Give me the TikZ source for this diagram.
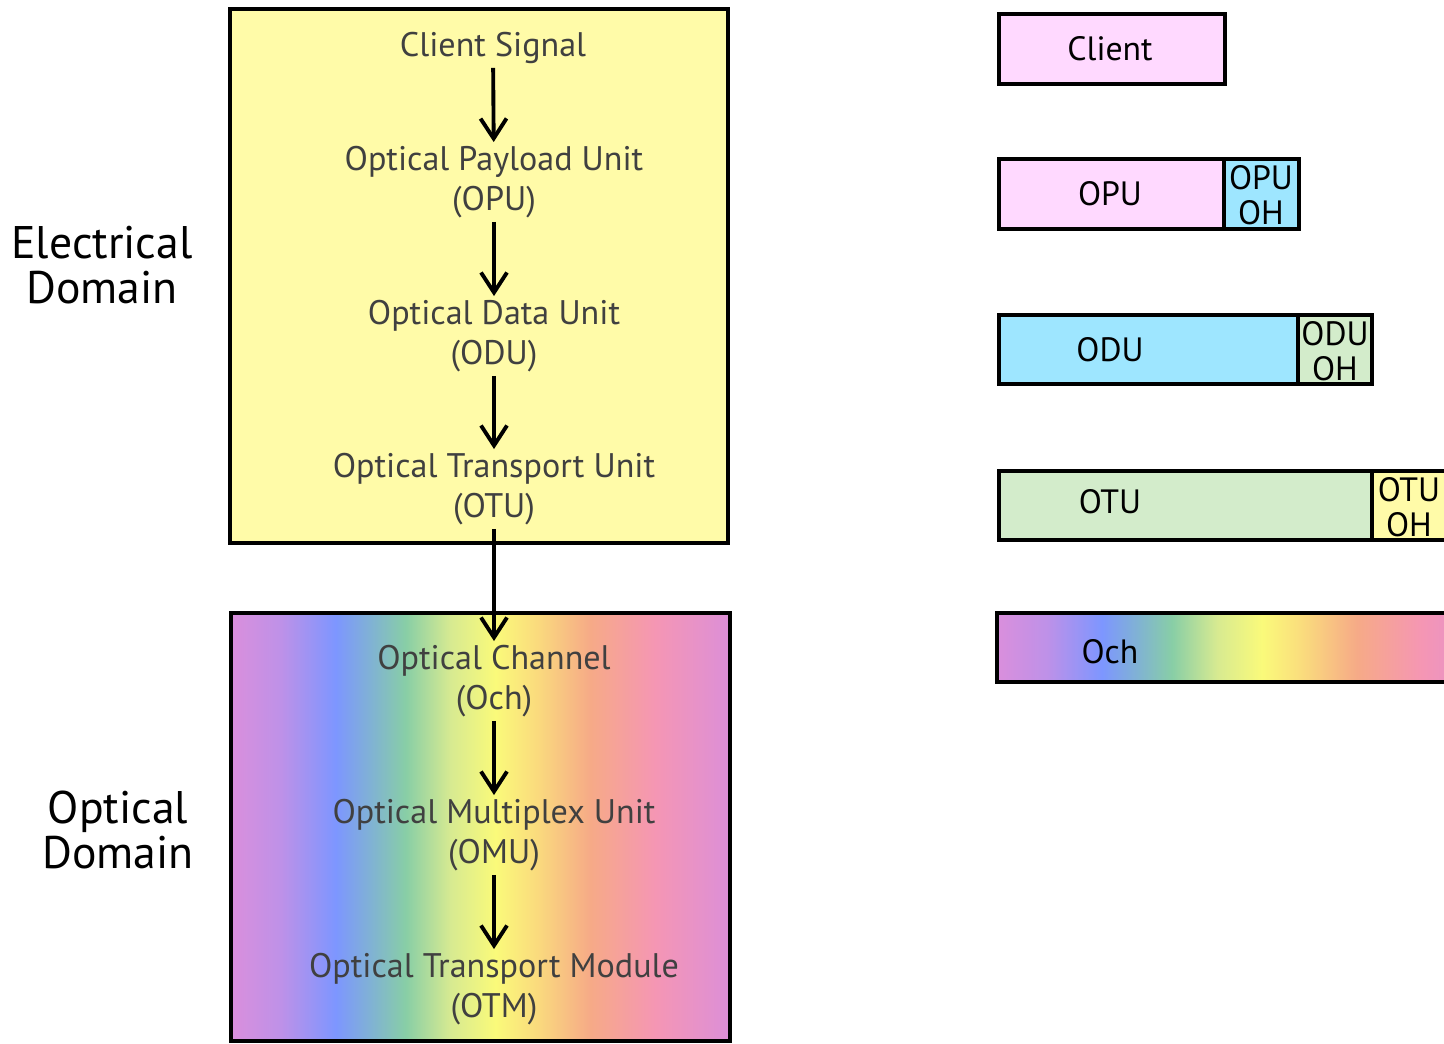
\documentclass[tikz,border=0pt]{standalone}
\usepackage{fontspec}
\setmainfont{PT Sans}
\usetikzlibrary{arrows.meta}
\definecolor{elecyellow}{RGB}{255,251,168}
\definecolor{clientpink}{RGB}{255,217,255}
\definecolor{opucyan}{RGB}{158,230,255}
\definecolor{odugreen}{RGB}{211,236,203}
\definecolor{labelgray}{RGB}{64,64,64}
\definecolor{rbA}{RGB}{218,143,220}
\definecolor{rbB}{RGB}{190,145,232}
\definecolor{rbC}{RGB}{125,150,255}
\definecolor{rbD}{RGB}{128,178,212}
\definecolor{rbE}{RGB}{136,206,166}
\definecolor{rbF}{RGB}{215,234,145}
\definecolor{rbG}{RGB}{250,250,122}
\definecolor{rbH}{RGB}{250,220,125}
\definecolor{rbI}{RGB}{246,170,135}
\definecolor{rbJ}{RGB}{245,150,180}
\definecolor{rbK}{RGB}{220,143,216}
\pgfdeclarehorizontalshading{rainbow}{100bp}{color(0bp)=(rbA); color(25bp)=(rbA);
  color(30bp)=(rbB); color(35.5bp)=(rbC); color(39bp)=(rbD); color(42.5bp)=(rbE);
  color(47bp)=(rbF); color(51.5bp)=(rbG); color(55.5bp)=(rbH); color(61bp)=(rbI);
  color(67.5bp)=(rbJ); color(75bp)=(rbK); color(100bp)=(rbK)}
\tikzset{
  lbl/.style={align=center, text=labelgray, inner sep=1pt,
    font=\fontsize{9.7}{11.3}\selectfont},
  dom/.style={align=center, font=\fontsize{13}{12.8}\selectfont},
  frame/.style={draw, line width=1pt},
  bartxt/.style={align=center, inner sep=0pt, font=\fontsize{9.6}{10}\selectfont},
  arr/.style={-{Straight Barb[length=2mm,width=2.6mm]}, line width=1.1pt}
}
\begin{document}
\begin{tikzpicture}[x=0.1mm,y=-0.1mm]
  \useasboundingbox (0,0) rectangle (1444,1044);
  % the two domains
  \draw[frame, fill=elecyellow] (230,9) rectangle (728,543);
  \shade[frame, shading=rainbow] (231,613) rectangle (730,1041);
  \node[dom] (elec) at (102,265) {Electrical\\Domain};
  \node[dom] (optd) at (118,830) {Optical\\Domain};
  % layers
  \node[lbl] (cs) at (493,48) {Client Signal};
  \node[lbl] (opu) at (494,182) {Optical Payload Unit\\(OPU)};
  \node[lbl] (odu) at (494,336) {Optical Data Unit\\(ODU)};
  \node[lbl] (otu) at (494,489) {Optical Transport Unit\\(OTU)};
  \node[lbl] (och) at (494,681) {Optical Channel\\(Och)};
  \node[lbl] (omu) at (494,835) {Optical Multiplex Unit\\(OMU)};
  \node[lbl] (otm) at (494,989) {Optical Transport Module\\(OTM)};
  \draw[arr] (cs) -- (opu);
  \draw[arr] (opu) -- (odu);
  \draw[arr] (odu) -- (otu);
  \draw[arr] (otu) -- (och);
  \draw[arr] (och) -- (omu);
  \draw[arr] (omu) -- (otm);
  % frame structure
  \draw[frame, fill=clientpink] (999,14) rectangle (1225,84);
  \node[bartxt] (client) at (1110,49) {Client};
  \draw[frame, fill=clientpink] (999,159) rectangle (1224,229);
  \draw[frame, fill=opucyan] (1224,159) rectangle (1299,229);
  \node[bartxt] (opub) at (1110,194) {OPU};
  \node[bartxt] (opuoh) at (1261,195) {OPU\\OH};
  \draw[frame, fill=opucyan] (999,315) rectangle (1298,384);
  \draw[frame, fill=odugreen] (1298,315) rectangle (1372,384);
  \node[bartxt] (odub) at (1110,350) {ODU};
  \node[bartxt] (oduoh) at (1335,351) {ODU\\OH};
  \draw[frame, fill=odugreen] (999,471) rectangle (1372,540);
  \draw[frame, fill=elecyellow] (1372,471) rectangle (1446,540);
  \node[bartxt] (otub) at (1110,502) {OTU};
  \node[bartxt] (otuoh) at (1409,507) {OTU\\OH};
  \shade[frame, shading=rainbow] (997,613) rectangle (1497,682);
  \node[bartxt] (ochb) at (1110,652) {Och};
\end{tikzpicture}
\end{document}
